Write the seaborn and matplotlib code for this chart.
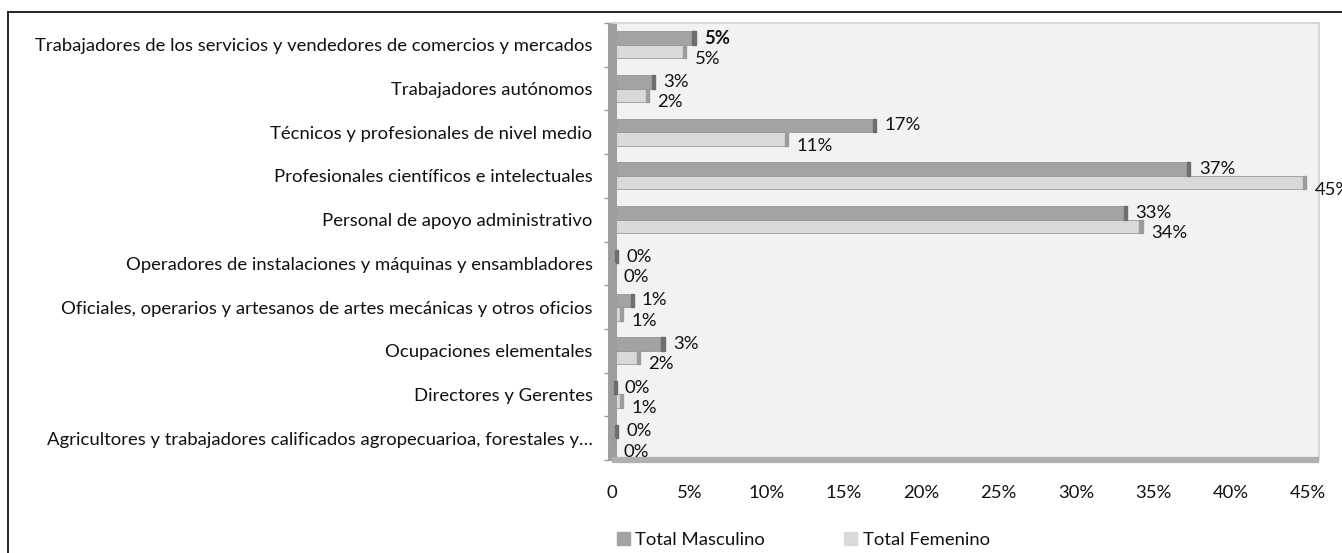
import numpy as np
import pandas as pd
import matplotlib
matplotlib.use("Agg")
import matplotlib.pyplot as plt
from matplotlib.patches import Rectangle
from matplotlib.lines import Line2D
import seaborn as sns

categorias = [
    "Trabajadores de los servicios y vendedores de comercios y mercados",
    "Trabajadores autónomos",
    "Técnicos y profesionales de nivel medio",
    "Profesionales científicos e intelectuales",
    "Personal de apoyo administrativo",
    "Operadores de instalaciones y máquinas y ensambladores",
    "Oficiales, operarios y artesanos de artes mecánicas y otros oficios",
    "Ocupaciones elementales",
    "Directores y Gerentes",
    "Agricultores y trabajadores calificados agropecuarioa, forestales y…",
]
masculino = [5.4, 2.8, 17.1, 37.4, 33.3, 0.4, 1.4, 3.4, 0.3, 0.4]
femenino = [4.8, 2.4, 11.4, 44.9, 34.3, 0.2, 0.7, 1.8, 0.7, 0.2]
series = ["Total Masculino", "Total Femenino"]
x_ticks = [0, 5, 10, 15, 20, 25, 30, 35, 40, 45]
x_tick_labels = ["0", "5%", "10%", "15%", "20%", "25%", "30%", "35%", "40%", "45%"]

df = pd.DataFrame({
    "cat": categorias * 2,
    "serie": [series[0]] * len(categorias) + [series[1]] * len(categorias),
    "valor": masculino + femenino,
})

sns.set_theme(style="white")
plt.rcParams["font.family"] = ["Lato", "DejaVu Sans"]
plt.rcParams["text.color"] = "#111111"
plt.rcParams["xtick.color"] = "#111111"
plt.rcParams["ytick.color"] = "#111111"

FS = 13.3
W, H = 1342, 553
fig = plt.figure(figsize=(W / 100, H / 100), dpi=100)
fig.patch.set_facecolor("white")
ax = fig.add_axes([612 / W, 1 - 460 / H, (1319 - 612) / W, (460 - 23) / H])

colores = ["#a3a3a3", "#d9d9d9"]
tapas = ["#6e6e6e", "#9c9c9c"]
sns.barplot(data=df, y="cat", x="valor", hue="serie", order=categorias,
            hue_order=series, palette=colores, width=0.62, orient="h",
            errorbar=None, legend=False, ax=ax, edgecolor="#8c8c8c", linewidth=0.5)

ax.set_facecolor("#f2f2f2")
ax.set_xlim(0, 45 * (1319 - 612) / (1308 - 612))
ax.set_ylim(9.5, -0.5)

# extremos oscuros (efecto 3D) y etiquetas de datos
for i, cont in enumerate(ax.containers):
    for j, bar in enumerate(cont):
        w = bar.get_width()
        y = bar.get_y()
        h = bar.get_height()
        ax.add_patch(Rectangle((w - 0.2, y), 0.2, h, color=tapas[i], zorder=3))
        dy = 0 if i == 0 else -5
        fw = "bold" if (i == 0 and j == 0) else "normal"
        ax.annotate("%d%%" % round(w), xy=(w, y + h / 2), xytext=(6, dy),
                    textcoords="offset points", va="center", ha="left",
                    fontsize=FS, fontweight=fw, annotation_clip=False)

for s in ["top", "right"]:
    ax.spines[s].set_color("#d2d2d2")
    ax.spines[s].set_linewidth(1.2)
ax.spines["left"].set_color("#9e9e9e")
ax.spines["left"].set_linewidth(6.5)
ax.spines["left"].set_capstyle("butt")
ax.spines["bottom"].set_color("#b0b0b0")
ax.spines["bottom"].set_linewidth(4.5)
ax.spines["bottom"].set_capstyle("butt")

ax.set_xticks(x_ticks, x_tick_labels)
ax.tick_params(axis="x", length=7, width=1, color="#9a9a9a", pad=11, labelsize=FS)
ax.tick_params(axis="y", which="major", length=0, pad=14, labelsize=FS)
ax.set_yticks(np.arange(-0.5, len(categorias), 1), minor=True)
ax.tick_params(axis="y", which="minor", length=6, width=1, color="#9a9a9a", left=True)
ax.set_xlabel("")
ax.set_ylabel("")

handles = [Rectangle((0, 0), 1, 1, color=c) for c in colores]
fig.legend(handles, series, loc="center left", bbox_to_anchor=(600 / W, 1 - 540 / H),
           ncol=2, frameon=False, fontsize=FS, handlelength=0.7, handleheight=0.7,
           handletextpad=0.3, columnspacing=4.3)

# marco del grafico
fig.add_artist(Line2D([8 / W, 8 / W], [0, 1 - 12 / H], transform=fig.transFigure, color="black", lw=1.2))
fig.add_artist(Line2D([8 / W, 1], [1 - 12 / H, 1 - 12 / H], transform=fig.transFigure, color="black", lw=1.2))

fig.savefig("out.png", dpi=100)
